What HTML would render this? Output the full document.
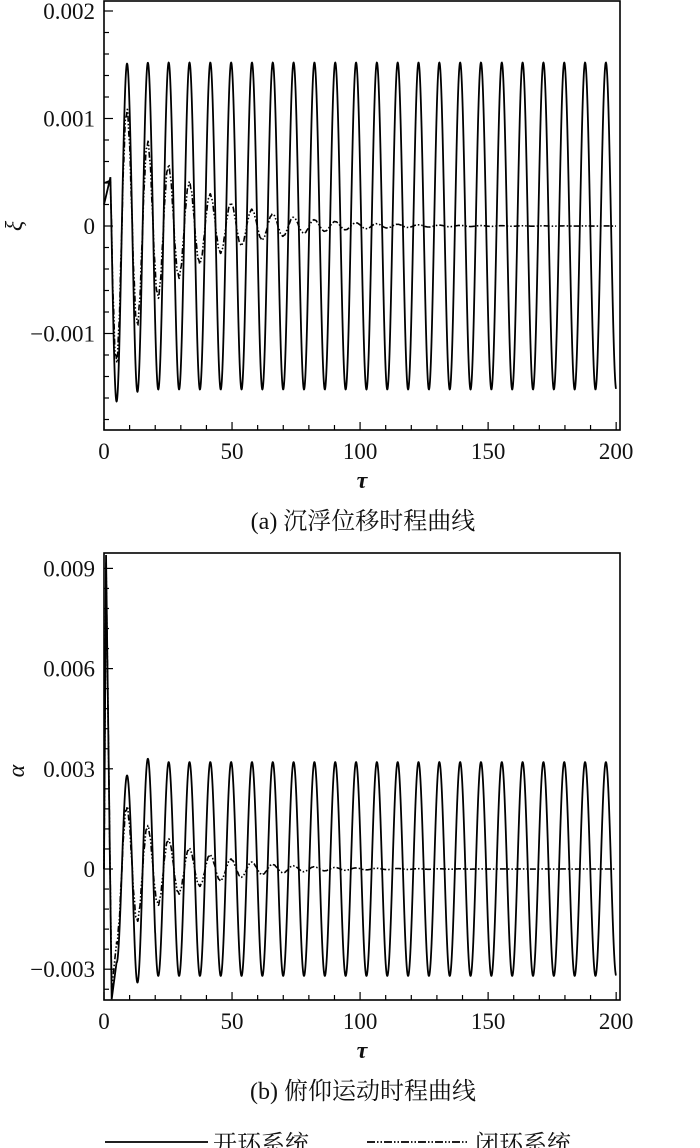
<!DOCTYPE html>
<html><head><meta charset="utf-8"><style>
body{margin:0;background:#fff;width:700px;height:1148px;overflow:hidden}
svg{display:block}
text{font-family:"Liberation Serif","Noto Serif CJK SC",serif;fill:#111}
</style></head><body>
<svg id="s" width="700" height="1148" viewBox="0 0 700 1148">
<g id="g"></g>
</svg>
<script>
const g=document.getElementById('g');
let h='';
const X0=104,X1=620,xs=(X1-X0)/201.5;
const X=t=>X0+t*xs;
function frame(top,bot){h+=`<rect x="${X0}" y="${top}" width="${X1-X0}" height="${bot-top}" fill="none" stroke="#000" stroke-width="1.6"/>`;
 for(let t=0;t<=200;t+=10){const L=t%50==0?8:5;h+=`<line x1="${X(t)}" y1="${bot}" x2="${X(t)}" y2="${bot-L}" stroke="#000" stroke-width="1.2"/>`;
  if(t%50==0)h+=`<text x="${X(t)}" y="${bot+29}" font-size="23" text-anchor="middle">${t}</text>`;}}
function yt(Y,v0,v1,step,majEvery,top,bot,labels){
 for(let v=v0;v<=v1+1e-9;v+=step){const y=Y(v);if(y<top-0.5||y>bot+0.5)continue;
  const k=Math.round(v/step);const maj=k%majEvery==0;
  h+=`<line x1="${X0}" y1="${y}" x2="${X0+(maj?9:5)}" y2="${y}" stroke="#000" stroke-width="1.2"/>`;
  if(maj&&labels[k/majEvery]!==undefined)h+=`<text x="${X0-9}" y="${y+8}" font-size="23" text-anchor="end">${labels[k/majEvery]}</text>`;}}
function path(f,Y,dash){let d='';for(let t=0;t<=200;t+=0.05){d+=(t?'L':'M')+X(t).toFixed(2)+','+Y(f(t)).toFixed(2);}
 h+=`<path d="${d}" fill="none" stroke="#000" stroke-width="${dash?1.6:1.8}" ${dash?'stroke-dasharray="6,2,1.5,2,1.5,2"':''}/>`;}
const P=8.13,w=2*Math.PI/P;
// plot a
const Ya=v=>226-v*107500;
frame(1,430);
yt(Ya,-0.002,0.002,0.0002,5,1,430,{'-1':'\u22120.001','0':'0','1':'0.001','2':'0.002'});
function openA(t){
 let a=0.00152; if(t<20) a=0.00152+0.0003*Math.exp(-(t)/5)*(Math.cos(w*(t-9))<0?1:-0.2);
 let v=a*Math.cos(w*(t-9));
 if(t<2.5){const s=t/2.5;v=0.0002*(1-s)+s*(a*Math.cos(w*(2.5-9)));}
 return v;}
function closedA(t){const e=Math.exp(-(t-5)/25);let a=0.00125*e;let v=a*Math.cos(w*(t-9))+0.00004*e*Math.sin(7*t);
 if(t<2.5){const s=t/2.5;v=0.0004*(1-s)+s*(0.00125*Math.exp(2.5/25)*Math.cos(w*(2.5-9)));}
 return v;}
path(openA,Ya,false);path(closedA,Ya,true);
h+=`<text x="22" y="226" font-size="24" font-style="italic" transform="rotate(-90 22 226)" text-anchor="middle">ξ</text>`;
h+=`<text x="362" y="488" font-size="24" font-style="italic" font-weight="bold" text-anchor="middle">τ</text>`;
h+=`<text x="363" y="529" font-size="24" text-anchor="middle">(a) 沉浮位移时程曲线</text>`;
// plot b
const Yb=v=>869-v*33400;
frame(553,1000);
yt(Yb,-0.0042,0.0096,0.0006,5,553,1000,{'-1':'\u22120.003','0':'0','1':'0.003','2':'0.006','3':'0.009'});
function openB(t){let a=0.0032;if(t<20)a=0.0032+(t<11?-0.0004:0.0002)*(t<15?1:0.5);
 let v=a*Math.cos(w*(t-9));
 if(t<4.9){ if(t<0.8)v=t/0.8*0.0094; else if(t<3)v=0.0094-(t-0.8)/2.2*0.0133; else {const s=(t-3)/1.9;v=-0.0039*(1-s)+s*a*Math.cos(w*(4.9-9));}}
 return v;}
function closedB(t){const e=Math.exp(-(t-5)/22);let a=0.0022*e;let v=a*Math.cos(w*(t-9))+0.00008*e*Math.sin(7*t);
 if(t<4.9){const en=0.0022*Math.exp(0.1/22)*Math.cos(w*(4.9-9)); if(t<0.8)v=t/0.8*0.0092; else if(t<3)v=0.0092-(t-0.8)/2.2*0.0128; else {const s=(t-3)/1.9;v=-0.0036*(1-s)+s*en;}}
 return v;}
path(openB,Yb,false);path(closedB,Yb,true);
h+=`<text x="24" y="771" font-size="24" font-style="italic" transform="rotate(-90 24 771)" text-anchor="middle">α</text>`;
h+=`<text x="362" y="1058" font-size="24" font-style="italic" font-weight="bold" text-anchor="middle">τ</text>`;
h+=`<text x="363" y="1099" font-size="24" text-anchor="middle">(b) 俯仰运动时程曲线</text>`;
// legend
h+=`<line x1="105" y1="1142" x2="208" y2="1142" stroke="#000" stroke-width="1.8"/>`;
h+=`<text x="213" y="1152" font-size="24">开环系统</text>`;
h+=`<line x1="367" y1="1142" x2="467" y2="1142" stroke="#000" stroke-width="1.8" stroke-dasharray="8,2,1.5,2,1.5,2"/>`;
h+=`<text x="475" y="1152" font-size="24">闭环系统</text>`;
g.innerHTML=h;
</script>
</body></html>
